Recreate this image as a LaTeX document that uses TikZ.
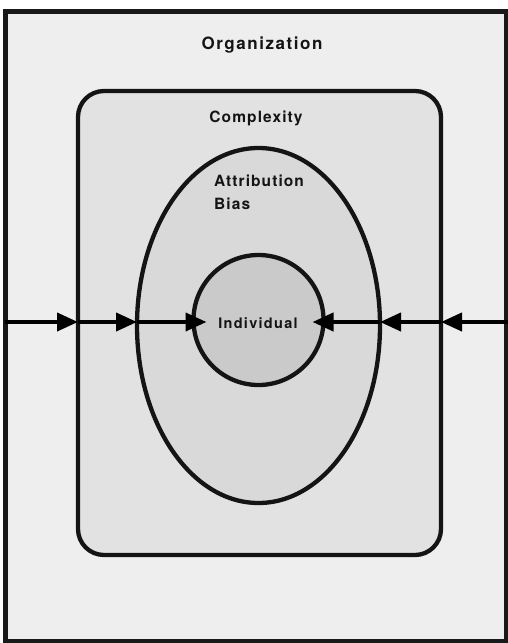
\documentclass[tikz,border=0pt]{standalone}
\usepackage{fontspec}
\setmainfont{TeX Gyre Heros}
\newfontfamily\lblfont[LetterSpace=7]{TeX Gyre Heros}
\usetikzlibrary{arrows.meta,shapes.geometric}
\definecolor{bgout}{HTML}{EEEEEE}
\definecolor{bgrect}{HTML}{E2E2E2}
\definecolor{bgell}{HTML}{D9D9D9}
\definecolor{bgcirc}{HTML}{CACACA}
\tikzset{
  lbl/.style={font=\lblfont\bfseries\fontsize{15.5}{23}\selectfont, text=black!92, inner sep=0pt},
  flow/.style={line width=4pt, -{Triangle[length=21pt,width=18pt]}},
  ring/.style={draw=black!92, line width=4.3pt}
}
\begin{document}
\begin{tikzpicture}[x=1pt,y=-1pt]
\useasboundingbox (0,0) rectangle (508,643);
\fill[white] (0,0) rectangle (508,643);
\node[draw=black!90, line width=5pt, fill=bgout, minimum width=501pt, minimum height=630pt, inner sep=0pt, outer sep=0pt] (org) at (256,326) {};
\node[ring, fill=bgrect, rounded corners=26pt, minimum width=363pt, minimum height=464pt, inner sep=0pt, outer sep=0pt] (cx) at (259.5,323) {};
\node[ring, fill=bgell, ellipse, minimum width=243pt, minimum height=355pt, inner sep=0pt, outer sep=0pt] (ab) at (258.5,325.5) {};
\node[ring, fill=bgcirc, circle, minimum size=130pt, inner sep=0pt, outer sep=0pt] (ind) at (258.5,320) {};
\node[lbl, font=\lblfont\addfontfeature{LetterSpace=9}\bfseries\fontsize{17}{19}\selectfont] (torg) at (262,45) {Organization};
\node[lbl] (tcx) at (256,118) {Complexity};
\node[lbl, align=left, anchor=north west] (tab) at (214,175) {Attribution\\Bias};
\node[lbl, font=\lblfont\addfontfeature{LetterSpace=9}\bfseries\fontsize{14.5}{16}\selectfont] (tind) at (258,323) {Individual};
\coordinate (lin) at (5,322);
\coordinate (rin) at (508,322);
\draw[flow] (lin) -- (cx.west |- lin);
\draw[flow] (cx.west |- lin) -- (ab.west |- lin);
\draw[flow, shorten >=-13pt] (ab.west |- lin) -- (ind.west |- lin);
\draw[flow] (rin) -- (cx.east |- rin);
\draw[flow] (cx.east |- rin) -- (ab.east |- rin);
\draw[flow, shorten >=-11pt] (ab.east |- rin) -- (ind.east |- rin);
\end{tikzpicture}
\end{document}
